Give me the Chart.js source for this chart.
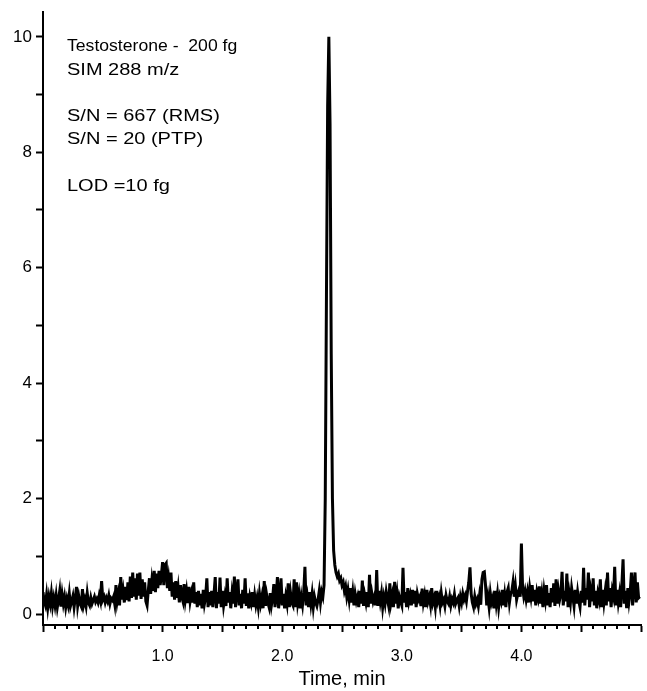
<!DOCTYPE html>
<html>
<head>
<meta charset="utf-8">
<script src="https://cdn.jsdelivr.net/npm/chart.js@4.4.0/dist/chart.umd.min.js"></script>
<style>
  html, body { margin: 0; padding: 0; background: #fff; }
  #wrap { width: 647px; height: 691px; position: relative; }
</style>
</head>
<body>
<div id="wrap"><canvas id="c" width="647" height="691"></canvas></div>
<script>
// ---- data ----
const TIME_STEP = 0.01; // min between samples, starting at 0.00
const signal = [
  0.38,0.22,0.15,0.33,0.12,0.30,0.18,0.36,0.14,0.28,
  0.15,0.32,0.12,0.25,0.40,0.13,0.34,0.18,0.30,0.12,
  0.26,0.16,0.35,0.14,0.22,0.31,0.12,0.28,0.47,0.15,
  0.30,0.18,0.13,0.43,0.16,0.25,0.14,0.36,0.20,0.15,
  0.28,0.18,0.24,0.30,0.21,0.26,0.20,0.32,0.23,0.57,
  0.25,0.30,0.20,0.28,0.22,0.32,0.18,0.27,0.24,0.30,
  0.17,0.50,0.22,0.35,0.15,0.64,0.25,0.40,0.20,0.47,
  0.24,0.55,0.22,0.65,0.28,0.72,0.30,0.62,0.25,0.70,
  0.32,0.72,0.26,0.60,0.30,0.55,0.22,0.15,0.40,0.62,
  0.35,0.58,0.40,0.75,0.38,0.70,0.45,0.75,0.50,0.68,
  0.90,0.50,0.85,0.88,0.45,0.62,0.40,0.72,0.30,0.55,
  0.25,0.57,0.28,0.45,0.20,0.50,0.30,0.22,0.52,0.25,
  0.40,0.19,0.47,0.22,0.35,0.20,0.55,0.18,0.38,0.12,
  0.40,0.15,0.35,0.10,0.42,0.18,0.30,0.62,0.12,0.38,
  0.15,0.40,0.12,0.35,0.64,0.10,0.38,0.18,0.63,0.12,
  0.40,0.15,0.30,0.14,0.62,0.20,0.38,0.10,0.35,0.18,
  0.65,0.12,0.40,0.60,0.15,0.35,0.10,0.42,0.18,0.62,
  0.14,0.36,0.10,0.30,0.20,0.38,0.12,0.32,0.16,0.28,
  0.12,0.35,0.18,0.30,0.10,0.57,0.14,0.33,0.20,0.12,
  0.36,0.15,0.28,0.52,0.12,0.30,0.64,0.10,0.32,0.62,
  0.15,0.35,0.10,0.30,0.18,0.53,0.12,0.36,0.20,0.15,
  0.60,0.12,0.55,0.20,0.34,0.10,0.30,0.16,0.37,0.82,
  0.15,0.30,0.12,0.38,0.18,0.35,0.12,0.30,0.20,0.14,
  0.25,0.40,0.20,0.38,0.30,0.50,2.00,5.50,8.80,10.0,
  8.50,4.50,2.00,1.10,0.85,0.72,0.65,0.70,0.58,0.62,
  0.50,0.55,0.40,0.48,0.30,0.42,0.25,0.45,0.20,0.38,
  0.15,0.35,0.22,0.30,0.12,0.40,0.18,0.58,0.14,0.32,
  0.20,0.38,0.12,0.68,0.18,0.35,0.22,0.30,0.15,0.76,
  0.14,0.40,0.22,0.36,0.12,0.30,0.18,0.38,0.25,0.14,
  0.53,0.20,0.32,0.12,0.56,0.18,0.35,0.10,0.30,0.22,
  0.15,0.80,0.20,0.38,0.12,0.45,0.22,0.32,0.15,0.42,
  0.18,0.40,0.12,0.35,0.25,0.30,0.14,0.44,0.20,0.32,
  0.12,0.42,0.22,0.30,0.16,0.45,0.20,0.28,0.12,0.40,
  0.22,0.30,0.15,0.36,0.20,0.25,0.14,0.32,0.22,0.18,
  0.30,0.15,0.26,0.20,0.34,0.18,0.24,0.28,0.14,0.30,
  0.20,0.35,0.25,0.32,0.22,0.40,0.55,0.81,0.35,0.20,
  0.12,0.30,0.18,0.25,0.14,0.32,0.16,0.60,0.72,0.73,
  0.50,0.15,0.30,0.12,0.36,0.20,0.28,0.10,0.40,0.18,
  0.35,0.12,0.30,0.22,0.42,0.15,0.33,0.12,0.38,0.45,
  0.20,0.35,0.40,0.55,0.30,0.48,0.25,0.35,0.42,0.30,
  1.22,0.45,0.30,0.40,0.25,0.38,0.20,0.45,0.30,0.50,
  0.22,0.42,0.15,0.38,0.28,0.48,0.18,0.35,0.12,0.40,
  0.25,0.50,0.15,0.36,0.12,0.45,0.20,0.53,0.14,0.60,
  0.18,0.40,0.25,0.35,0.73,0.15,0.40,0.22,0.70,0.12,
  0.35,0.20,0.45,0.30,0.14,0.42,0.18,0.38,0.22,0.12,
  0.40,0.20,0.80,0.15,0.45,0.25,0.72,0.12,0.38,0.22,
  0.62,0.15,0.40,0.10,0.35,0.25,0.60,0.12,0.42,0.20,
  0.38,0.15,0.72,0.22,0.45,0.12,0.40,0.30,0.82,0.15,
  0.42,0.20,0.35,0.12,0.50,0.95,0.18,0.40,0.10,0.45,
  0.22,0.38,0.72,0.15,0.50,0.72,0.20,0.55,0.28,0.30
];
const yTicks = [0,1,2,3,4,5,6,7,8,9,10];
const yLabelTicks = [0,2,4,6,8,10];
const xMajorTicks = [0,0.5,1,1.5,2,2.5,3,3.5,4,4.5,5];
const xLabelTicks = [1,2,3,4];
const xMinorTicks = [0.1,0.2,0.3,0.4,0.6,0.7,0.8,0.9,1.1,1.2,1.3,1.4,1.6,1.7,1.8,1.9,
  2.1,2.2,2.3,2.4,2.6,2.7,2.8,2.9,3.1,3.2,3.3,3.4,3.6,3.7,3.8,3.9,4.1,4.2,4.3,4.4,4.6,4.7,4.8,4.9];
const xTitle = 'Time, min';
const annotationLines = [
  'Testosterone -  200 fg',
  'SIM 288 m/z',
  '',
  'S/N = 667 (RMS)',
  'S/N = 20 (PTP)',
  '',
  'LOD =10 fg'
];

const points = signal.map((v, i) => ({ x: +(i * TIME_STEP).toFixed(2), y: v }));

const FONT = "'Liberation Sans', Arial, Helvetica, sans-serif";

const minorTickPlugin = {
  id: 'minorTicks',
  afterDraw(chart) {
    const xs = chart.scales.x;
    const ctx = chart.ctx;
    ctx.save();
    ctx.strokeStyle = '#000';
    ctx.lineWidth = 2;
    const y0 = xs.top;
    xMinorTicks.forEach(v => {
      const px = Math.round(xs.getPixelForValue(v));
      ctx.beginPath();
      ctx.moveTo(px, y0);
      ctx.lineTo(px, y0 + 4);
      ctx.stroke();
    });
    ctx.restore();
  }
};

const annotationPlugin = {
  id: 'annot',
  afterDraw(chart) {
    const ctx = chart.ctx;
    ctx.save();
    ctx.fillStyle = '#000';
    ctx.font = '16px ' + FONT;
    ctx.textAlign = 'left';
    ctx.textBaseline = 'middle';
    const x0 = 67, yStart = 47, lh = 23.2;
    annotationLines.forEach((t, i) => {
      if (!t) return;
      ctx.save();
      ctx.translate(x0, yStart + i * lh);
      ctx.scale(i === 0 ? 1.1 : 1.25, 1);
      ctx.fillText(t, 0, 0);
      ctx.restore();
    });
    ctx.restore();
  }
};

new Chart(document.getElementById('c'), {
  type: 'line',
  data: {
    datasets: [{
      data: points,
      borderColor: '#000',
      borderWidth: 3,
      pointRadius: 0,
      tension: 0,
      fill: false
    }]
  },
  options: {
    responsive: false,
    devicePixelRatio: 1,
    animation: false,
    layout: { padding: { left: 0, right: 6, top: 12, bottom: 0 } },
    plugins: { legend: { display: false }, tooltip: { enabled: false } },
    scales: {
      x: {
        type: 'linear',
        min: 0, max: 5,
        afterBuildTicks: s => { s.ticks = xMajorTicks.map(v => ({ value: v })); },
        afterFit: s => { s.height = 66; s.paddingLeft = 0; s.paddingRight = 0; },
        border: { display: true, color: '#000', width: 2 },
        grid: { drawOnChartArea: false, drawTicks: true, tickLength: 7, tickWidth: 2, tickColor: '#000' },
        ticks: {
          color: '#000',
          font: { family: FONT, size: 16 },
          padding: 15,
          maxRotation: 0,
          autoSkip: false,
          callback: v => xLabelTicks.includes(v) ? v.toFixed(1) : ''
        },
        title: {
          display: true, text: xTitle, color: '#000',
          font: { family: FONT, size: 20 },
          padding: { top: 0, bottom: 0 }
        }
      },
      y: {
        type: 'linear',
        min: -0.19, max: 10.43,
        afterBuildTicks: s => { s.ticks = yTicks.map(v => ({ value: v })); },
        afterFit: s => { s.width = 43; s.paddingTop = 0; s.paddingBottom = 0; },
        border: { display: true, color: '#000', width: 2 },
        grid: { drawOnChartArea: false, drawTicks: true, tickLength: 7, tickWidth: 2, tickColor: '#000' },
        ticks: {
          color: '#000',
          font: { family: FONT, size: 17 },
          padding: 4,
          autoSkip: false,
          callback: v => yLabelTicks.includes(v) ? String(v) : ''
        }
      }
    }
  },
  plugins: [minorTickPlugin, annotationPlugin]
});
</script>
</body>
</html>
